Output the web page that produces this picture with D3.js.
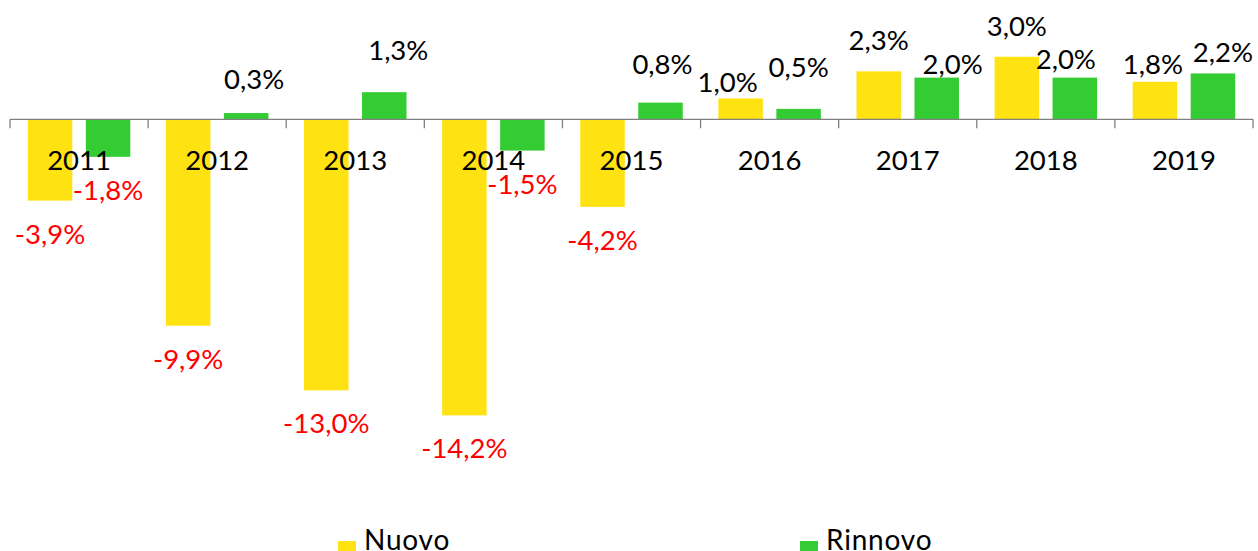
<!DOCTYPE html>
<html>
<head>
<meta charset="utf-8">
<script src="https://cdn.jsdelivr.net/npm/d3@7"></script>
<style>
  body { margin: 0; background: #fff; }
  text { font-family: Lato, "Open Sans", sans-serif; }
</style>
</head>
<body>
<script>
// dati
const years   = ["2011", "2012", "2013", "2014", "2015", "2016", "2017", "2018", "2019"];
const nuovo   = [-3.9, -9.9, -13.0, -14.2, -4.2, 1.0, 2.3, 3.0, 1.8];
const rinnovo = [-1.8, 0.3, 1.3, -1.5, 0.8, 0.5, 2.0, 2.0, 2.2];
const seriesNames = ["Nuovo", "Rinnovo"];

// spostamenti manuali delle etichette positive [dx, distanza dalla barra]
const nuovoNudge   = [null, null, null, null, null, [-13, 6], [0, 21], [0, 21], [-2, 8]];
const rinnovoNudge = [null, [8, 24], [14, 32], null, [2, 29], [0, 32], [16, 4], [-9, 9], [10, 11]];

const W = 1258, H = 551;
const colors = { Nuovo: "#FFE212", Rinnovo: "#33CC33" };

const svg = d3.select("body").append("svg")
  .attr("width", W)
  .attr("height", H);

const x = d3.scaleBand()
  .domain(years)
  .range([10, 1253])
  .paddingInner(0)
  .paddingOuter(0);

const xs = d3.scaleBand()
  .domain(seriesNames)
  .range([0, x.bandwidth()])
  .paddingInner(0.233)
  .paddingOuter(0.307);

const y = d3.scaleLinear()
  .domain([-16, 4])
  .range([119.3 + 16 * 20.85, 119.3 - 4 * 20.85]);

const rows = years.map((yr, i) => ({
  year: yr,
  vals: [
    { key: "Nuovo", v: nuovo[i], nudge: nuovoNudge[i] },
    { key: "Rinnovo", v: rinnovo[i], nudge: rinnovoNudge[i] }
  ]
}));

const groups = svg.append("g").selectAll("g")
  .data(rows)
  .enter().append("g")
  .attr("transform", d => `translate(${x(d.year)},0)`);

groups.selectAll("rect")
  .data(d => d.vals)
  .enter().append("rect")
  .attr("x", d => xs(d.key))
  .attr("width", xs.bandwidth())
  .attr("y", d => Math.min(y(d.v), y(0)))
  .attr("height", d => Math.abs(y(d.v) - y(0)))
  .attr("fill", d => colors[d.key]);

// asse orizzontale
const axis = svg.append("g");
axis.append("line")
  .attr("x1", x.range()[0]).attr("x2", x.range()[1])
  .attr("y1", y(0)).attr("y2", y(0))
  .attr("stroke", "#808080").attr("stroke-width", 1.3);

const tickPos = years.map(d => x(d)).concat([x.range()[1]]);
axis.selectAll(".tick")
  .data(tickPos)
  .enter().append("line")
  .attr("x1", d => d).attr("x2", d => d)
  .attr("y1", y(0)).attr("y2", y(0) + 9)
  .attr("stroke", "#808080").attr("stroke-width", 1.3);

axis.selectAll(".cat")
  .data(years)
  .enter().append("text")
  .attr("x", d => x(d) + x.bandwidth() / 2)
  .attr("y", 170)
  .attr("text-anchor", "middle")
  .style("font-size", "27.5px")
  .attr("fill", "#000")
  .text(d => d);

// etichette valori
const fmt = v => v.toFixed(1).replace(".", ",") + "%";

groups.selectAll(".lbl")
  .data(d => d.vals)
  .enter().append("text")
  .attr("class", "lbl")
  .attr("x", d => xs(d.key) + xs.bandwidth() / 2 + (d.v >= 0 && d.nudge ? d.nudge[0] : 0))
  .attr("y", d => d.v < 0 ? y(d.v) + 43 : y(d.v) - (d.nudge ? d.nudge[1] : 8))
  .attr("text-anchor", "middle")
  .style("font-size", "27.5px")
  .attr("fill", d => d.v < 0 ? "#FF0000" : "#000")
  .text(d => fmt(d.v));

// legenda
const legendX = [338, 800];
const legend = svg.append("g").selectAll("g")
  .data(seriesNames)
  .enter().append("g")
  .attr("transform", (d, i) => `translate(${legendX[i]},541)`);

legend.append("rect")
  .attr("width", 18).attr("height", 18)
  .attr("fill", d => colors[d]);

legend.append("text")
  .attr("x", 26)
  .attr("y", 9)
  .style("font-size", "28px")
  .style("letter-spacing", "0.8px")
  .attr("fill", "#000")
  .text(d => d);
</script>
</body>
</html>
